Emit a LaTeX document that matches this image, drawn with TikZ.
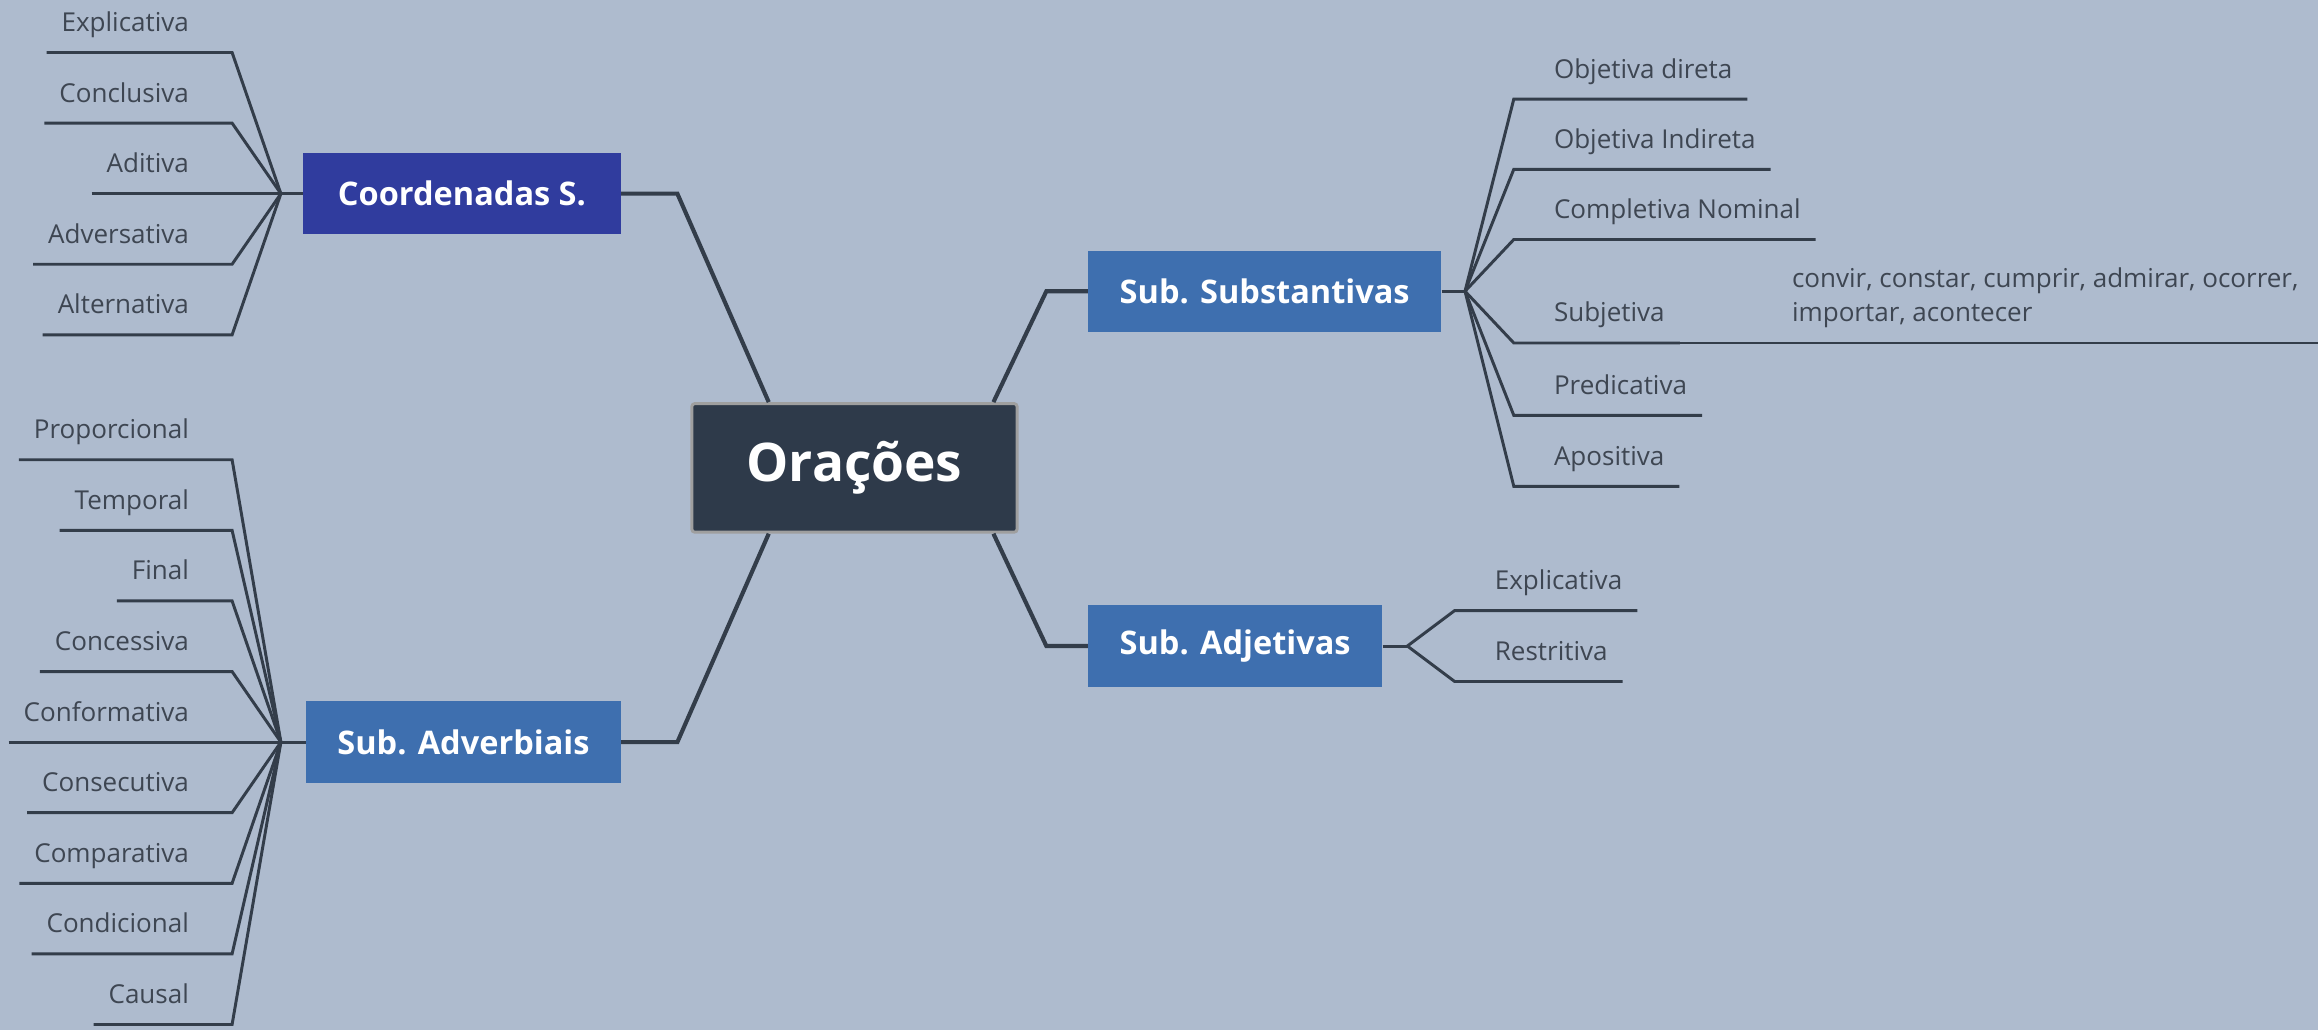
\documentclass[tikz,border=0pt]{standalone}
\usepackage{fontspec}
\setmainfont{Open Sans}
\usetikzlibrary{calc}
\definecolor{bgcol}{HTML}{AEBBCE}
\definecolor{linecol}{HTML}{333D4A}
\definecolor{leafcol}{HTML}{3E4652}
\definecolor{rootcol}{HTML}{2E3A4A}
\definecolor{coordcol}{HTML}{303C9E}
\definecolor{subcol}{HTML}{3E6FAF}

\begin{document}
\begin{tikzpicture}[x=1pt,y=-1pt,
  branch/.style={draw=linecol,line width=2.8pt},
  twig/.style={draw=linecol,line width=2pt},
  leaf/.style={font=\fontsize{17.6}{23}\selectfont,text=leafcol,inner xsep=10pt,inner ysep=10pt,text height=12pt,text depth=4pt},
  topic/.style={text=white,font=\bfseries\fontsize{22}{26}\selectfont,minimum height=55pt,inner xsep=0pt,inner ysep=0pt},
  root/.style={fill=rootcol,draw=gray!75,line width=2pt,rounded corners=2pt,text=white,font=\bfseries\fontsize{36}{40}\selectfont,minimum width=220pt,minimum height=87pt}]
\fill[bgcol] (0,0) rectangle (1568,697);
\useasboundingbox (0,0) rectangle (1568,697);

\node[root] (root) at (578,316.5) {Orações};
\node[topic,fill=coordcol,minimum width=215pt] (coord) at (312.5,131) {Coordenadas S.};
\node[topic,fill=subcol,minimum width=213pt] (adv) at (313.5,502) {Sub. Adverbiais};
\node[topic,fill=subcol,minimum width=239pt] (subst) at (855.5,197) {Sub. Substantivas};
\node[topic,fill=subcol,minimum width=199pt] (adj) at (835.5,437) {Sub. Adjetivas};

\draw[branch] (coord.east) -- ++(38,0) -- ([xshift=-58pt]root.north);
\draw[branch] (adv.east) -- ++(38,0) -- ([xshift=-58pt]root.south);
\draw[branch] (subst.west) -- ++(-28,0) -- ([xshift=94pt]root.north);
\draw[branch] (adj.west) -- ++(-28,0) -- ([xshift=94pt]root.south);

\coordinate (jc) at (190,131);
\draw[twig] (coord.west) -- (jc);
\foreach \t [count=\i] in {Explicativa,Conclusiva,Aditiva,Adversativa,Alternativa} {
  \coordinate (cc\i) at ($(jc)+(-33,{(\i-3)*47.75})$);
  \node[leaf,anchor=south east,xshift=-19pt] (c\i) at (cc\i) {\t};
  \draw[twig] (c\i.south west) -- (cc\i) -- (jc);
}

\coordinate (jv) at (190,502);
\draw[twig] (adv.west) -- (jv);
\foreach \t [count=\i] in {Proporcional,Temporal,Final,Concessiva,Conformativa,Consecutiva,Comparativa,Condicional,Causal} {
  \coordinate (cv\i) at ($(jv)+(-33,{(\i-5)*47.75})$);
  \node[leaf,anchor=south east,xshift=-19pt] (v\i) at (cv\i) {\t};
  \draw[twig] (v\i.south west) -- (cv\i) -- (jv);
}

\coordinate (js) at (991,197);
\draw[twig] (subst.east) -- (js);
\foreach \t/\dy [count=\i] in {Objetiva direta/-130,Objetiva Indireta/-82.5,Completiva Nominal/-35,Subjetiva/35,Predicativa/84,Apositiva/132} {
  \coordinate (cs\i) at ($(js)+(33,\dy)$);
  \node[leaf,anchor=south west,xshift=17pt] (s\i) at (cs\i) {\t};
  \draw[twig] (js) -- (cs\i) -- (s\i.south east);
}
\node[leaf,align=left,anchor=south west] (obs) at ($(cs4)+(178,0)$) {convir, constar, cumprir, admirar, ocorrer,\\importar, acontecer};
\coordinate (rim) at (1580,0);
\draw[twig] (s4.south east) -- (s4.south east -| rim);

\coordinate (ja) at (952,437);
\draw[twig] (adj.east) -- (ja);
\foreach \t/\dy [count=\i] in {Explicativa/-24,Restritiva/24} {
  \coordinate (ca\i) at ($(ja)+(32,\dy)$);
  \node[leaf,anchor=south west,xshift=17pt] (a\i) at (ca\i) {\t};
  \draw[twig] (ja) -- (ca\i) -- (a\i.south east);
}
\end{tikzpicture}
\end{document}
